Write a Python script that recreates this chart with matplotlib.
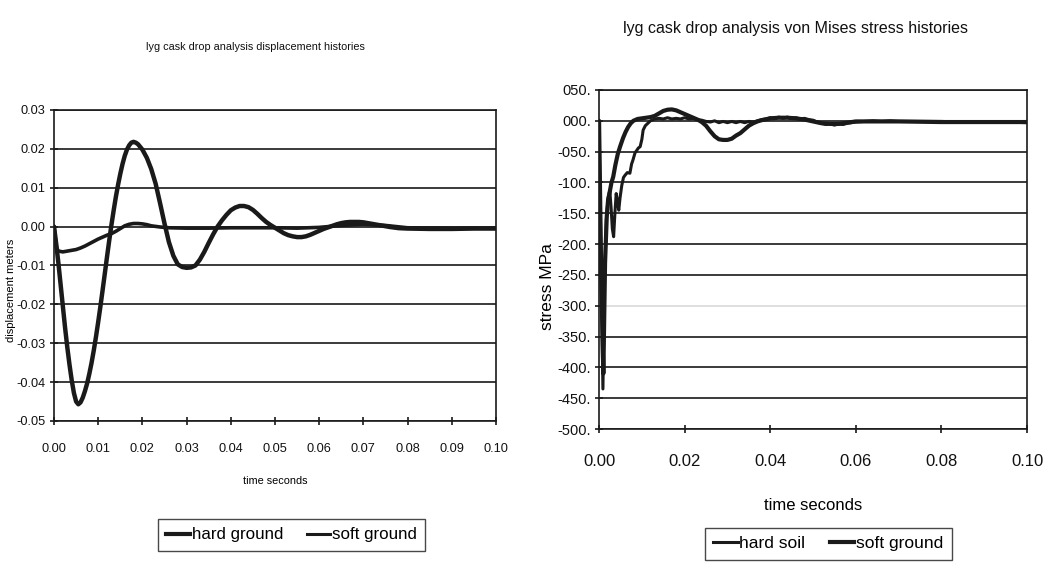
import matplotlib
matplotlib.use("Agg")
import matplotlib.pyplot as plt
from matplotlib.lines import Line2D

plt.rcParams['font.family'] = ['Liberation Sans', 'DejaVu Sans']
plt.rcParams['axes.unicode_minus'] = False

# ---- displacement histories (m) ----
hard_disp_t = [0.0000, 0.0005, 0.0010, 0.0015, 0.0020, 0.0025, 0.0030, 0.0035, 0.0040, 0.0045,
               0.0050, 0.0055, 0.0060, 0.0065, 0.0070, 0.0075, 0.0080, 0.0085, 0.0090, 0.0095,
               0.0100, 0.0105, 0.0110, 0.0115, 0.0120, 0.0125, 0.0130, 0.0135, 0.0140, 0.0145,
               0.0150, 0.0155, 0.0160, 0.0165, 0.0170, 0.0175, 0.0180, 0.0185, 0.0190, 0.0200,
               0.0210, 0.0220, 0.0230, 0.0240, 0.0250, 0.0260, 0.0270, 0.0280, 0.0290, 0.0300,
               0.0310, 0.0320, 0.0330, 0.0340, 0.0350, 0.0360, 0.0370, 0.0380, 0.0390, 0.0400,
               0.0410, 0.0420, 0.0430, 0.0440, 0.0450, 0.0460, 0.0470, 0.0480, 0.0490, 0.0500,
               0.0510, 0.0520, 0.0530, 0.0540, 0.0550, 0.0560, 0.0570, 0.0580, 0.0590, 0.0600,
               0.0610, 0.0620, 0.0630, 0.0640, 0.0650, 0.0660, 0.0670, 0.0680, 0.0690, 0.0700,
               0.0720, 0.0740, 0.0760, 0.0780, 0.0800, 0.0850, 0.0900, 0.0950, 0.1000]
hard_disp = [0.0, -0.0045, -0.0095, -0.0150, -0.0205, -0.0260, -0.0310, -0.0355, -0.0395, -0.0428,
             -0.0450, -0.0457, -0.0452, -0.0440, -0.0423, -0.0403, -0.0378, -0.0350, -0.0318, -0.0283,
             -0.0245, -0.0205, -0.0163, -0.0120, -0.0077, -0.0035, 0.0005, 0.0042, 0.0077, 0.0108,
             0.0136, 0.0161, 0.0182, 0.0198, 0.0209, 0.0216, 0.0218, 0.0216, 0.0212, 0.0198,
             0.0177, 0.0148, 0.0110, 0.0060, 0.0008, -0.0040, -0.0075, -0.0097, -0.0104, -0.0106,
             -0.0105, -0.0100, -0.0085, -0.0065, -0.0042, -0.0020, 0.0000, 0.0016, 0.0030, 0.0042,
             0.0049, 0.0053, 0.0053, 0.0050, 0.0043, 0.0033, 0.0022, 0.0012, 0.0004, -0.0003,
             -0.0010, -0.0017, -0.0022, -0.0025, -0.0027, -0.0027, -0.0025, -0.0021, -0.0016, -0.0011,
             -0.0006, -0.0002, 0.0002, 0.0006, 0.0009, 0.0011, 0.0012, 0.0012, 0.0012, 0.0011,
             0.0007, 0.0003, -0.0001, -0.0004, -0.0005, -0.0006, -0.0006, -0.0005, -0.0005]

soft_disp_t = [0.0000, 0.0003, 0.0006, 0.0010, 0.0020, 0.0030, 0.0040, 0.0050, 0.0060, 0.0070,
               0.0080, 0.0090, 0.0100, 0.0110, 0.0120, 0.0130, 0.0140, 0.0150, 0.0160, 0.0170,
               0.0180, 0.0190, 0.0200, 0.0210, 0.0220, 0.0240, 0.0260, 0.0300, 0.0350, 0.0400,
               0.0450, 0.0500, 0.0550, 0.0600, 0.0650, 0.0700, 0.0750, 0.0800, 0.0900, 0.1000]
soft_disp = [0.0, -0.0030, -0.0055, -0.0063, -0.0065, -0.0063, -0.0061, -0.0059, -0.0055, -0.0050,
             -0.0044, -0.0038, -0.0032, -0.0027, -0.0022, -0.0018, -0.0012, -0.0005, 0.0002, 0.0006,
             0.0008, 0.0008, 0.0007, 0.0005, 0.0002, -0.0001, -0.0003, -0.0004, -0.0004, -0.0003,
             -0.0003, -0.0003, -0.0004, -0.0002, 0.0003, 0.0006, 0.0003, -0.0003, -0.0004, -0.0004]

disp_yticks = [-0.05, -0.04, -0.03, -0.02, -0.01, 0.00, 0.01, 0.02, 0.03]
disp_ylabels = ["-0.05", "-0.04", "-0.03", "-0.02", "-0.01", "0.00", "0.01", "0.02", "0.03"]
disp_xticks = [0.00, 0.01, 0.02, 0.03, 0.04, 0.05, 0.06, 0.07, 0.08, 0.09, 0.10]
disp_xlabels = ["0.00", "0.01", "0.02", "0.03", "0.04", "0.05", "0.06", "0.07", "0.08", "0.09", "0.10"]

# ---- von Mises stress histories (MPa) ----
hard_stress_t = [0.0000, 0.0004, 0.0009, 0.0013, 0.0017, 0.0021, 0.0025, 0.0028, 0.0031, 0.0034,
                 0.0037, 0.0040, 0.0043, 0.0046, 0.0049, 0.0053, 0.0057, 0.0061, 0.0066, 0.0072,
                 0.0076, 0.0079, 0.0084, 0.0088, 0.0092, 0.0096, 0.0100, 0.0103, 0.0108, 0.0114,
                 0.0120, 0.0130, 0.0140, 0.0150, 0.0160, 0.0170, 0.0180, 0.0190, 0.0200, 0.0210,
                 0.0220, 0.0230, 0.0240, 0.0250, 0.0260, 0.0270, 0.0280, 0.0290, 0.0300, 0.0310,
                 0.0320, 0.0330, 0.0340, 0.0350, 0.0360, 0.0370, 0.0380, 0.0390, 0.0400, 0.0410,
                 0.0420, 0.0430, 0.0440, 0.0450, 0.0460, 0.0470, 0.0480, 0.0490, 0.0500, 0.0510,
                 0.0520, 0.0530, 0.0540, 0.0550, 0.0560, 0.0570, 0.0580, 0.0590, 0.0600, 0.0620,
                 0.0640, 0.0660, 0.0680, 0.0700, 0.0750, 0.0800, 0.0850, 0.0900, 0.0950, 0.1000]
hard_stress = [0, -200, -435, -250, -160, -125, -113, -140, -175, -188,
               -150, -118, -130, -145, -125, -105, -92, -88, -84, -85,
               -70, -64, -52, -48, -44, -42, -30, -15, -8, -4,
               0, 3, 4, 3, 5, 3, 4, 3, 5, 3,
               4, 2, 1, -1, -2, 0, -3, -1, -3, -1,
               -3, -1, -3, -1, -2, 0, 2, 3, 5, 4,
               6, 4, 6, 4, 5, 3, 4, 2, 1, -2,
               -4, -6, -5, -7, -5, -6, -4, -3, -2, -1,
               0, -1, 0, -1, -1, -1, -2, -2, -2, -3]

soft_stress_t = [0.0000, 0.0005, 0.0010, 0.0014, 0.0018, 0.0021, 0.0025, 0.0029, 0.0033, 0.0038,
                 0.0044, 0.0050, 0.0056, 0.0062, 0.0068, 0.0074, 0.0080, 0.0090, 0.0100, 0.0110,
                 0.0120, 0.0130, 0.0140, 0.0150, 0.0160, 0.0170, 0.0180, 0.0190, 0.0200, 0.0210,
                 0.0220, 0.0230, 0.0240, 0.0250, 0.0260, 0.0270, 0.0280, 0.0290, 0.0300, 0.0310,
                 0.0320, 0.0330, 0.0340, 0.0350, 0.0360, 0.0370, 0.0380, 0.0400, 0.0420, 0.0440,
                 0.0460, 0.0480, 0.0500, 0.0520, 0.0540, 0.0560, 0.0580, 0.0600, 0.0650, 0.0700,
                 0.0800, 0.0900, 0.1000]
soft_stress = [0, -250, -410, -230, -155, -129, -115, -100, -91, -72,
               -53, -40, -28, -18, -10, -4, 0, 3, 4, 5,
               6, 8, 12, 16, 18, 18.5, 17, 14, 11, 8,
               5, 2, -2, -8, -17, -25, -30, -31, -31, -29,
               -24, -20, -14, -8, -4, -1, 1, 4, 5, 5,
               4, 2, -1, -4, -5, -5, -3, -1, -1, -1,
               -2, -2, -2]

stress_yticks = [-500, -450, -400, -350, -300, -250, -200, -150, -100, -50, 0, 50]
stress_ylabels = ["-500.", "-450.", "-400.", "-350.", "-300.", "-250.", "-200.", "-150.",
                  "-100.", "-050.", "000.", "050."]
stress_xticks = [0.00, 0.02, 0.04, 0.06, 0.08, 0.10]
stress_xlabels = ["0.00", "0.02", "0.04", "0.06", "0.08", "0.10"]

INK = "#1a1a1a"
GRID = "#2b2b2b"

fig = plt.figure(figsize=(10.51, 5.66), dpi=100)
fig.patch.set_facecolor("white")


def style_axes(ax, tick_size):
    for side in ("left", "bottom", "right", "top"):
        ax.spines[side].set_color(INK)
        ax.spines[side].set_linewidth(1.2)
    ax.grid(axis="y", color=GRID, linewidth=1.3)
    ax.grid(axis="x", visible=False)
    ax.set_axisbelow(True)
    ax.tick_params(axis="both", colors=INK, labelcolor="#111111", labelsize=tick_size,
                   direction="inout", length=6, width=1.2)


# left panel: displacement
ax1 = fig.add_axes([0.0514, 0.2562, 0.4205, 0.5495])
ax1.plot(soft_disp_t, soft_disp, color=INK, linewidth=2.6, solid_capstyle="round")
ax1.plot(hard_disp_t, hard_disp, color=INK, linewidth=3.2, solid_capstyle="round")
ax1.set_xlim(0.0, 0.10)
ax1.set_ylim(-0.05, 0.03)
ax1.set_yticks(disp_yticks)
ax1.set_yticklabels(disp_ylabels)
ax1.set_xticks(disp_xticks)
ax1.set_xticklabels(disp_xlabels)
style_axes(ax1, 9.2)
ax1.tick_params(axis="x", pad=13)
ax1.tick_params(axis="y", pad=3)
ax1.set_xlabel("time seconds", fontsize=7.8, labelpad=15)
ax1.set_ylabel("displacement meters", fontsize=8)
ax1.yaxis.set_label_coords(-0.086, 0.42)
fig.text(0.243, 0.917, "lyg cask drop analysis displacement histories", fontsize=7.8,
         ha="center", va="center", color="#111111")

h1 = [Line2D([], [], color=INK, linewidth=3.0),
      Line2D([], [], color=INK, linewidth=2.2)]
fig.legend(h1, ["hard ground", "soft ground"], loc="center", bbox_to_anchor=(0.2774, 0.0548),
           ncol=2, fontsize=12.2, frameon=True, fancybox=False, edgecolor=INK,
           handlelength=1.4, handletextpad=0.1, columnspacing=1.4, borderpad=0.5)

# right panel: stress
ax2 = fig.add_axes([0.5700, 0.2420, 0.4072, 0.5990])
ax2.plot(soft_stress_t, soft_stress, color=INK, linewidth=3.0, solid_capstyle="round")
ax2.plot(hard_stress_t, hard_stress, color=INK, linewidth=2.2, solid_capstyle="round")
ax2.set_xlim(0.0, 0.10)
ax2.set_ylim(-500, 50)
ax2.set_yticks(stress_yticks)
ax2.set_yticklabels(stress_ylabels)
ax2.set_xticks(stress_xticks)
ax2.set_xticklabels(stress_xlabels)
style_axes(ax2, 10.5)
ax2.tick_params(axis="x", labelsize=12, pad=15)
ax2.tick_params(axis="y", pad=3)
# the -300 grid line prints only faintly
ax2.yaxis.get_gridlines()[stress_yticks.index(-300)].set_color("#dcdcdc")
ax2.set_xlabel("time seconds", fontsize=12, labelpad=21)
ax2.set_ylabel("stress MPa", fontsize=12.5)
ax2.yaxis.set_label_coords(-0.104, 0.42)
fig.text(0.757, 0.950, "lyg cask drop analysis von Mises stress histories", fontsize=11.5,
         ha="center", va="center", color="#111111")

h2 = [Line2D([], [], color=INK, linewidth=2.2),
      Line2D([], [], color=INK, linewidth=3.0)]
fig.legend(h2, ["hard soil", "soft ground"], loc="upper center", bbox_to_anchor=(0.788, 0.068),
           ncol=2, fontsize=12.5, frameon=True, fancybox=False, edgecolor=INK,
           handlelength=1.4, handletextpad=0.1, columnspacing=1.4, borderpad=0.5,
           borderaxespad=0.0)

fig.savefig("out.png", dpi=100, facecolor="white")
